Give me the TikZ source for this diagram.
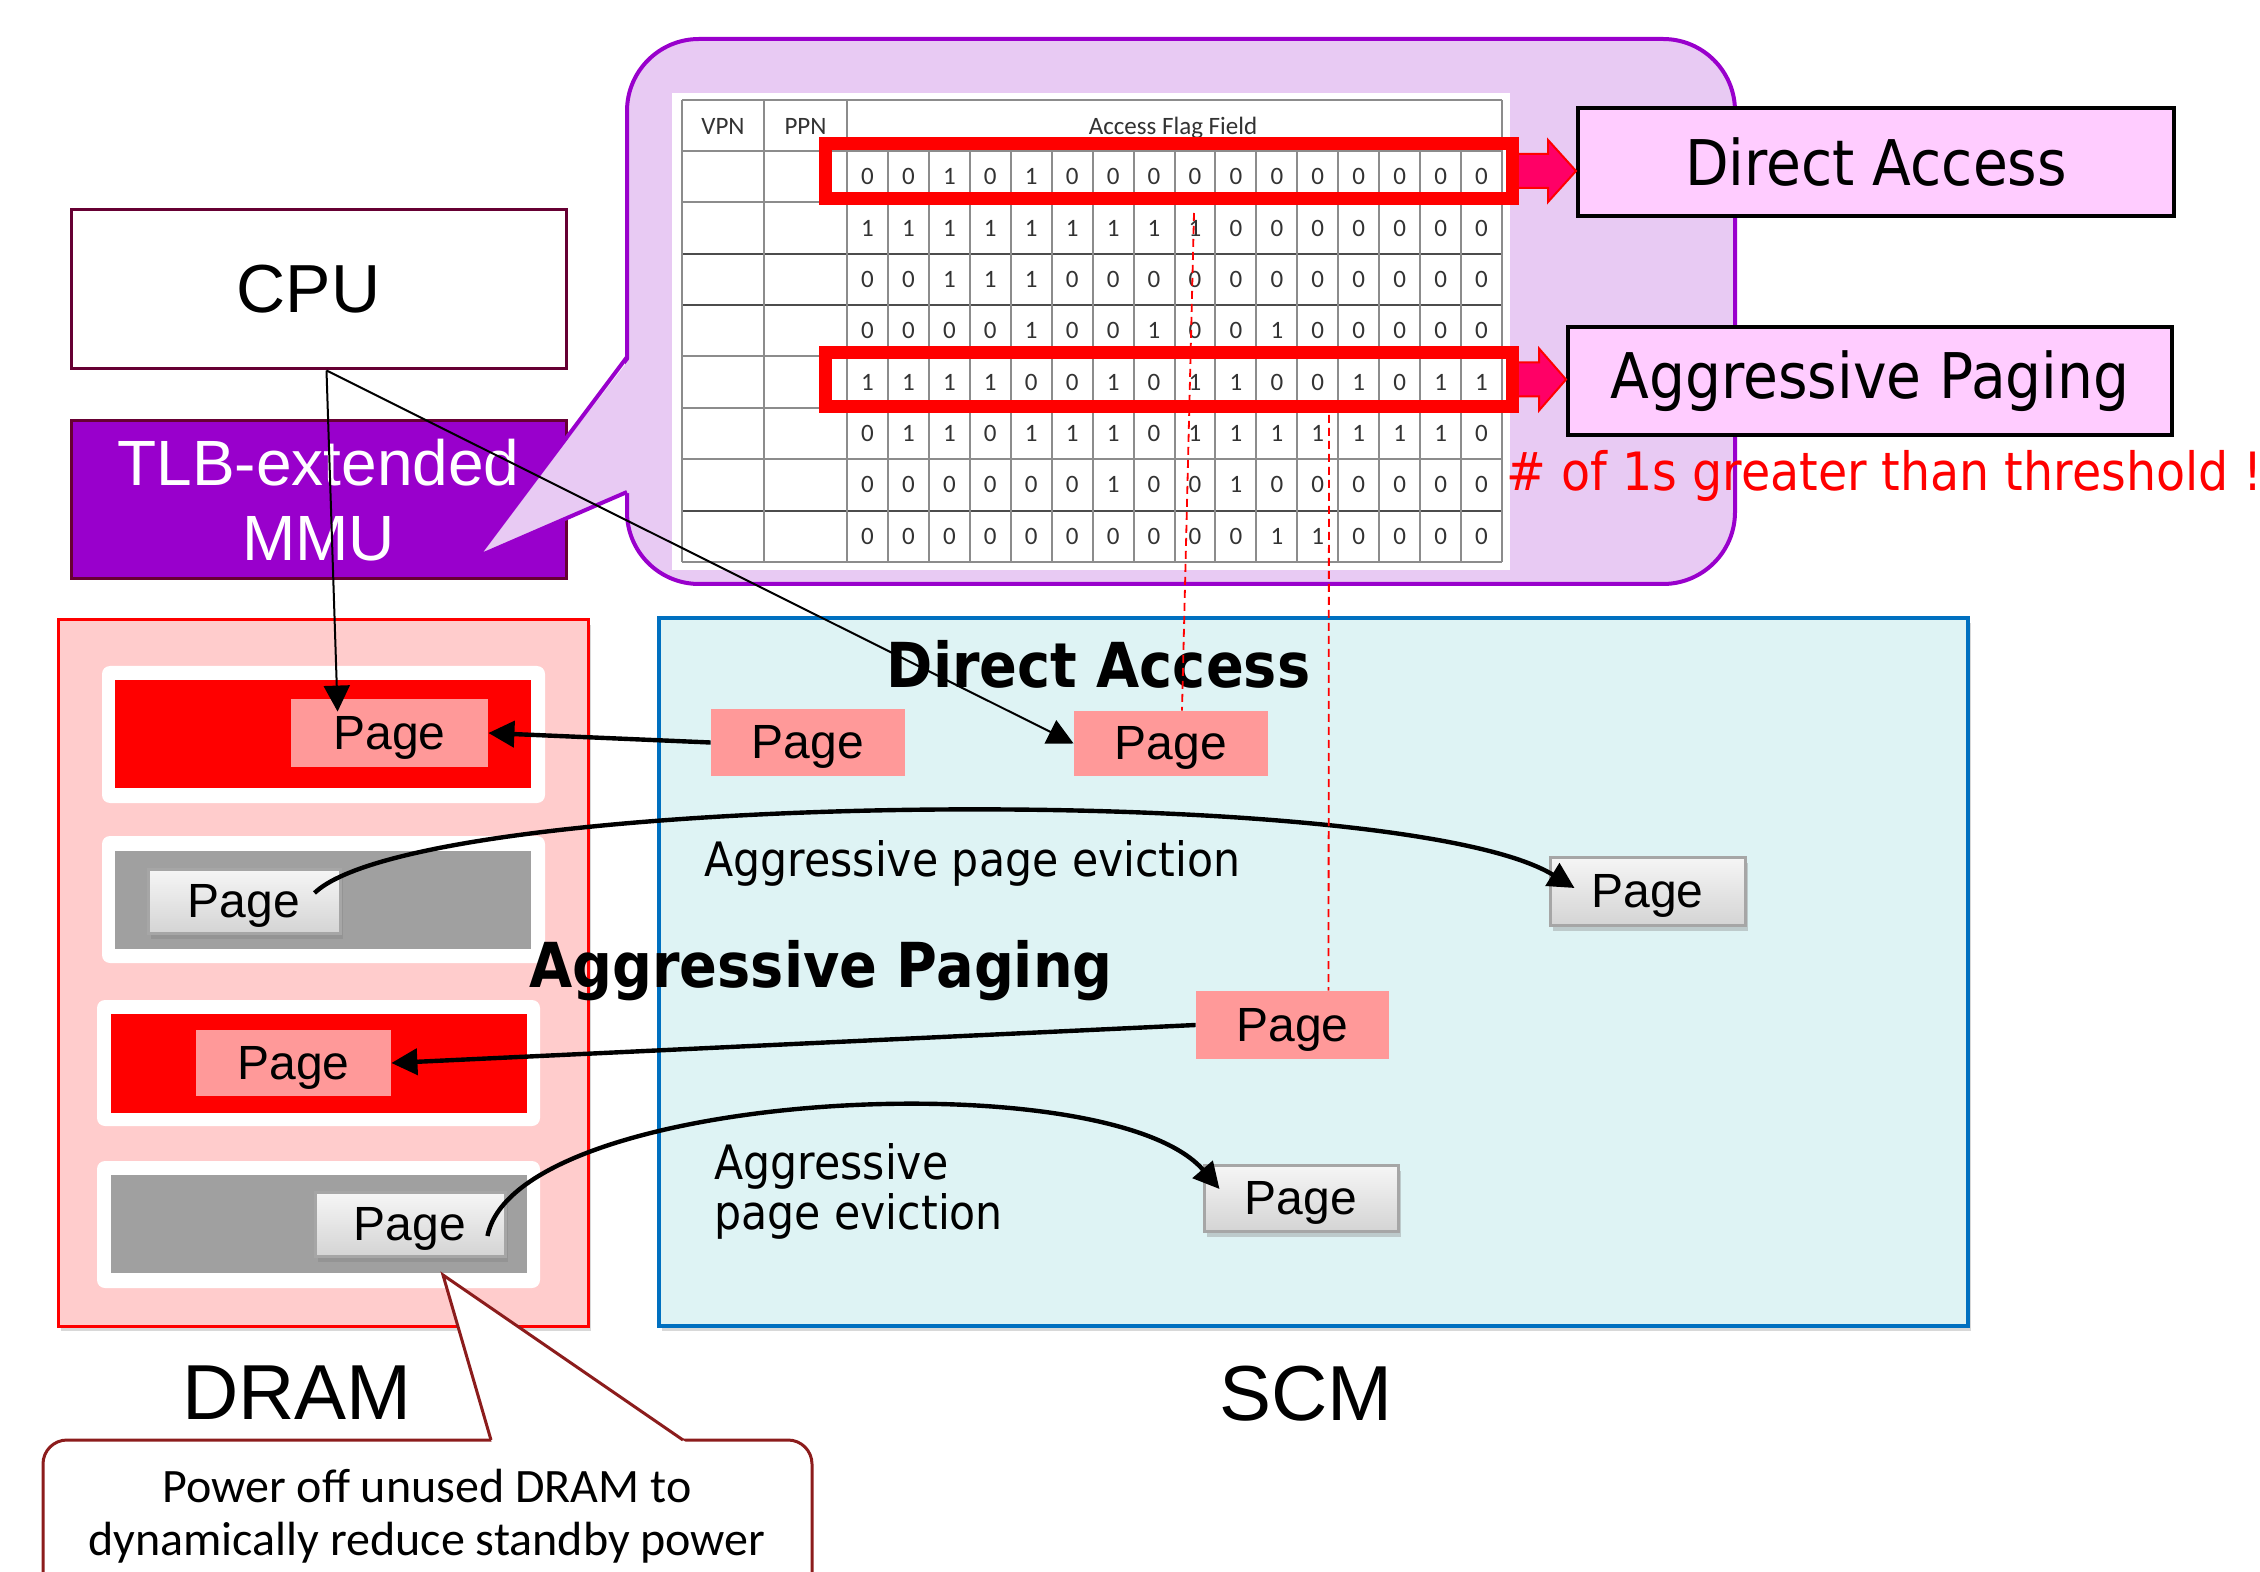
\documentclass[tikz,border=0pt]{standalone}
\usepackage{fontspec}
\setmainfont{Liberation Sans}
\newfontfamily\tahomalike[FakeStretch=0.9]{DejaVu Sans}
\newfontfamily\calib{Carlito}
\usetikzlibrary{calc,shadows,arrows.meta}

\definecolor{bubblefill}{HTML}{E8CAF3}
\definecolor{bubbleline}{HTML}{9900CC}
\definecolor{mmupurple}{HTML}{9900CC}
\definecolor{unitedge}{HTML}{660033}
\definecolor{labelpink}{HTML}{FFCCFF}
\definecolor{arrowpink}{HTML}{FF0066}
\definecolor{dramfill}{HTML}{FFCCCC}
\definecolor{scmfill}{HTML}{DEF3F4}
\definecolor{scmedge}{HTML}{0070C0}
\definecolor{pagepink}{HTML}{FF9999}
\definecolor{bargray}{HTML}{A0A0A0}
\definecolor{pagetop}{HTML}{F6F6F6}
\definecolor{pagebot}{HTML}{D4D4D4}
\definecolor{pageedge}{HTML}{A6A6A6}
\definecolor{calloutedge}{HTML}{8C1C1C}
\definecolor{gridgray}{HTML}{8C8C8C}
\definecolor{digitgray}{HTML}{333333}

\begin{document}
\begin{tikzpicture}[x=0.5pt, y=-0.5pt,
  wh/.style 2 args={minimum width=#1*0.5pt, minimum height=#2*0.5pt, inner sep=0pt},
  unitbox/.style={draw=unitedge, line width=1.5pt, rectangle},
  labelbox/.style={draw=black, line width=2pt, fill=labelpink,
    font=\tahomalike\fontsize{31.5pt}{34pt}\selectfont},
  hlbox/.style={draw=red, line width=6.5pt, rectangle},
  blockarr/.style={fill=arrowpink, draw=red, line width=1pt},
  bubblebody/.style={fill=bubblefill, draw=bubbleline, line width=2pt, rounded corners=36pt},
  bubbleedge/.style={draw=bubbleline, line width=2pt, line join=miter},
  gridline/.style={draw=gridgray, line width=1pt},
  gridstrong/.style={draw=black!70, line width=1.1pt},
  hdr/.style={font=\calib\fontsize{12.5pt}{14pt}\selectfont, text=digitgray, inner sep=0pt},
  digit/.style={font=\calib\fontsize{12.5pt}{14pt}\selectfont, text=digitgray, inner sep=0pt},
  dramframe/.style={draw=red, line width=1.5pt, fill=dramfill,
    drop shadow={opacity=0.3, shadow xshift=1.5pt, shadow yshift=-2.5pt}},
  scmframe/.style={draw=scmedge, line width=2pt, fill=scmfill,
    drop shadow={opacity=0.3, shadow xshift=1.5pt, shadow yshift=-2.5pt}},
  slotbox/.style={fill=white, rounded corners=4pt},
  pagetext/.style={font=\fontsize{24pt}{26pt}\selectfont, text height=18.5pt, text depth=2.5pt},
  pinkpage/.style={fill=pagepink, pagetext},
  greypage/.style={top color=pagetop, bottom color=pagebot, draw=pageedge, line width=1.5pt,
    pagetext, drop shadow={opacity=0.35, shadow xshift=1.5pt, shadow yshift=-3pt}},
  thinconn/.style={draw=black, line width=1pt, -{Triangle[length=13pt,width=13pt]}},
  thickconn/.style={draw=black, line width=2.2pt, -{Triangle[length=13pt,width=13pt]}},
  flagguide/.style={draw=red, line width=0.9pt, dash pattern=on 4pt off 2.5pt},
  calloutbody/.style={fill=white, draw=calloutedge, line width=1.5pt, rounded corners=12pt},
  calloutedge/.style={draw=calloutedge, line width=1.5pt, line join=miter},
  plaintext/.style={inner sep=0pt},
  scmtitle/.style={inner sep=0pt, anchor=base, font=\tahomalike\bfseries\fontsize{31pt}{33pt}\selectfont},
  scmnote/.style={inner sep=0pt, anchor=base west, font=\tahomalike\fontsize{23.7pt}{26pt}\selectfont}
]

\useasboundingbox (0,0) rectangle (2260,1572);
\clip (0,0) rectangle (2260,1572);
\fill[white] (0,0) rectangle (2260,1572);

% ---------- processor side ----------
\node[unitbox, fill=white, wh={495}{159}, font=\fontsize{34pt}{36pt}\selectfont]
  (cpu) at (318.5,289.5) {\hspace*{-10pt}CPU};
\node[unitbox, fill=mmupurple, text=white, align=center, wh={495}{158},
  font=\fontsize{32pt}{37.5pt}\selectfont]
  (mmu) at (318.5,500) {TLB-extended\\MMU};

% ---------- speech bubble holding the extended TLB ----------
\draw[bubblebody] (627,39) rectangle (1735,584);
\fill[bubblefill] (631,357) -- (477,557) -- (631,492) -- cycle;
\draw[bubbleedge] (627,357) -- (477,557) -- (627,492);

% table body
\fill[white] (672,93) rectangle (1510,570);
\foreach \k in {0,...,8}
  \draw[gridline] (682,{151+51.375*\k}) -- (1502,{151+51.375*\k});
\foreach \k in {2,3,7}
  \draw[gridstrong] (682,{151+51.375*\k}) -- (1502,{151+51.375*\k});
\draw[gridline] (682,100) -- (1502,100);
\foreach \xx in {682,764,847,1502}
  \draw[gridline] (\xx,100) -- (\xx,562);
\foreach \k in {1,...,15}
  \draw[gridline] ({847+40.9375*\k},151) -- ({847+40.9375*\k},562);

\node[hdr] (hvpn) at (723,126) {VPN};
\node[hdr] (hppn) at (805.5,126) {PPN};
\node[hdr] (haff) at (1173,128) {Access Flag Field};

\foreach \r/\bits in {
  1/{0,0,1,0,1,0,0,0,0,0,0,0,0,0,0,0},
  2/{1,1,1,1,1,1,1,1,1,0,0,0,0,0,0,0},
  3/{0,0,1,1,1,0,0,0,0,0,0,0,0,0,0,0},
  4/{0,0,0,0,1,0,0,1,0,0,1,0,0,0,0,0},
  5/{1,1,1,1,0,0,1,0,1,1,0,0,1,0,1,1},
  6/{0,1,1,0,1,1,1,0,1,1,1,1,1,1,1,0},
  7/{0,0,0,0,0,0,1,0,0,1,0,0,0,0,0,0},
  8/{0,0,0,0,0,0,0,0,0,0,1,1,0,0,0,0}}
  \foreach \b [count=\c from 0] in \bits
    \node[digit] (b\r-\c) at ({847+40.9375*(\c+0.5)},{151+51.375*(\r-0.5)}) {\b};

% classification labels
\node[labelbox, wh={596}{108}] (labA) at (1876,162) {Direct Access};
\node[labelbox, wh={604}{108}] (labB) at (1870,381) {Aggressive Paging};

% highlighted rows and their block arrows
\coordinate (rowA) at (1512.5,171);
\coordinate (rowB) at (1512.5,379.5);
\coordinate (tipA) at (labA.west |- rowA);
\coordinate (tipB) at (labB.west |- rowB);
\fill[blockarr] ($(rowA)+(0,-17)$) -- ($(tipA)+(-28,-17)$) -- ($(tipA)+(-28,-31)$) -- (tipA)
  -- ($(tipA)+(-28,31)$) -- ($(tipA)+(-28,17)$) -- ($(rowA)+(0,17)$) -- cycle;
\fill[blockarr] ($(rowB)+(0,-17)$) -- ($(tipB)+(-27,-17)$) -- ($(tipB)+(-27,-31)$) -- (tipB)
  -- ($(tipB)+(-27,31)$) -- ($(tipB)+(-27,17)$) -- ($(rowB)+(0,17)$) -- cycle;
\node[hlbox, wh={687}{55}] (hlA) at (1169,171) {};
\node[hlbox, wh={687}{54}] (hlB) at (1169,379.5) {};

\node[plaintext, anchor=base west, text=red, font=\tahomalike\fontsize{26.4pt}{30pt}\selectfont]
  (thr) at (1506,491) {\# of 1s greater than threshold !};

% ---------- DRAM ----------
\node[dramframe, wh={530}{706}] (dram) at (323,973) {};
\fill[slotbox] (102,666) rectangle (545,803);
\fill[red] (115,680) rectangle (531,788);
\fill[slotbox] (102,836) rectangle (545,963);
\fill[bargray] (115,851) rectangle (531,949);
\fill[slotbox] (97,1000) rectangle (540,1126);
\fill[red] (111,1014) rectangle (527,1113);
\fill[slotbox] (97,1161) rectangle (540,1288);
\fill[bargray] (111,1175) rectangle (527,1273);

\node[pinkpage, wh={197}{68}] (DP1) at (389.5,733) {Page};
\node[greypage, wh={192}{64}] (DG2) at (244,901) {Page};
\node[pinkpage, wh={195}{66}] (DP3) at (293.5,1063) {Page};
\node[greypage, wh={190}{64}] (DG4) at (410,1224) {Page};

% ---------- SCM ----------
\node[scmframe, wh={1309}{708}] (scm) at (1313.5,972) {};
\node[pinkpage, wh={194}{67}] (P1) at (808,742.5) {Page};
\node[pinkpage, wh={194}{65}] (P2) at (1171,743.5) {Page};
\node[pinkpage, wh={193}{68}] (P3) at (1292.5,1025) {Page};
\node[greypage, wh={195}{68}] (G1) at (1647.5,891) {Page};
\node[greypage, wh={194}{66}] (G2) at (1301,1198) {Page};

\node[scmtitle] (tda) at (1098.5,688) {Direct Access};
\node[scmtitle] (tap) at (821,987) {Aggressive Paging};
\node[scmnote] (tev) at (704,876) {Aggressive page eviction};
\node[scmnote] (tevA) at (714,1179) {Aggressive};
\node[scmnote] (tevB) at (714,1229) {page eviction};

\node[plaintext, anchor=base, font=\fontsize{39pt}{42pt}\selectfont] (dramlbl) at (297,1419) {DRAM};
\node[plaintext, anchor=base, font=\fontsize{39pt}{42pt}\selectfont] (scmlbl) at (1306,1420) {SCM};

% ---------- power-off callout ----------
\draw[calloutbody] (43,1440) rectangle (812,1640);
\fill[white] (492,1443) -- (443,1275) -- (687,1443) -- cycle;
\draw[calloutedge] (491,1440) -- (443,1275) -- (683,1440);
\node[plaintext, anchor=base, font=\calib\fontsize{24pt}{26pt}\selectfont]
  (coA) at (427,1502) {Power off unused DRAM to};
\node[plaintext, anchor=base, font=\calib\fontsize{24pt}{26pt}\selectfont]
  (coB) at (427,1555) {dynamically reduce standby power};

% ---------- connectors ----------
\draw[thinconn] ($(cpu.south)+(8,0)$) -- ($(DP1.north west)+(47,13)$);
\draw[thinconn] ($(cpu.south)+(8,0)$) -- (P2.west);
\draw[thickconn] (P1.west) -- (DP1.east);
\draw[thickconn] (P3.west) -- (DP3.east);
\draw[thickconn] ($(DG2.east)+(-27,-8)$) .. controls +(107,-103) and +(-176,-108) .. ($(G1.west)+(26,-3)$);
\draw[thickconn] ($(DG4.east)+(-19,12)$) .. controls +(29,-146) and +(-111,-129) .. ($(G2.west)+(17,-9)$);

% flag columns traced down to the pages they select
\coordinate (colA) at (1194,213);
\coordinate (colB) at (1329,415);
\draw[flagguide] (colA) -- ($(P2.north)+(11,0)$);
\draw[flagguide] (colB) -- ($(P3.north)+(36,0)$);

\end{tikzpicture}
\end{document}
